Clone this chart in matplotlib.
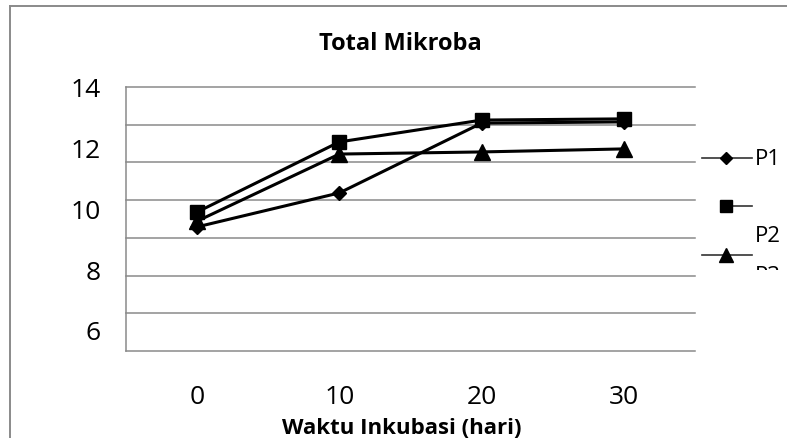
"""
Total Mikroba vs waktu inkubasi, line chart with three treatments.
"""

import numpy as np
import matplotlib.pyplot as plt
from matplotlib.lines import Line2D

plt.rcParams["font.family"] = ["Open Sans", "DejaVu Sans"]

# data
days = ["0", "10", "20", "30"]
series_names = ["P1", "P2", "P3"]
p1 = [9.39, 10.51, 12.81, 12.85]
p2 = [9.88, 12.19, 12.91, 12.95]
p3 = [9.58, 11.79, 11.86, 11.96]
y_ticks = [6, 8, 10, 12, 14]

markers = {"P1": ("D", 7), "P2": ("s", 10), "P3": ("^", 11)}
grid_c = "#8a8a8a"

W, H = 787, 439
fig = plt.figure(figsize=(W / 100, H / 100), dpi=100)

# outer chart frame (only left and top edges are visible in the crop)
fig.add_artist(Line2D([10 / W, 10 / W], [0, 1 - 7 / H], color=grid_c, lw=1.4))
fig.add_artist(Line2D([10 / W, 1], [1 - 7 / H, 1 - 7 / H], color=grid_c, lw=1.4))

ax = fig.add_axes([126 / W, 1 - 352 / H, (695 - 126) / W, 264 / H])
x = np.arange(len(days))
for name, vals in zip(series_names, [p1, p2, p3]):
    m, ms = markers[name]
    ax.plot(x, vals, color="black", lw=2.2, marker=m, ms=ms, label=name, zorder=3)

ymin, ymax = 5.3, 14
ax.set_ylim(ymin, ymax)
ax.set_xlim(-0.5, len(days) - 0.5)
ax.set_xticks(x)
ax.set_xticklabels(days)
ax.set_yticks(y_ticks)
# 8 evenly spaced horizontal gridlines, independent of the labels
for yy in np.linspace(ymin, ymax, 8):
    ax.axhline(yy, color=grid_c, lw=1.1, zorder=1, clip_on=False)
ax.tick_params(axis="both", which="both", length=0, labelsize=19)
ax.tick_params(axis="y", pad=18)
ax.tick_params(axis="x", pad=24)
for s in ["top", "right", "bottom"]:
    ax.spines[s].set_visible(False)
ax.spines["left"].set_color(grid_c)
ax.spines["left"].set_linewidth(1.1)

fig.text(400 / W, 1 - 44 / H, "Total Mikroba", ha="center", va="center",
         fontsize=17, fontweight="bold")
fig.text(402 / W, 1 - 429 / H, "Waktu Inkubasi (hari)", ha="center", va="center",
         fontsize=16, fontweight="bold")

# legend box on the right, clipped like in the original
lax = fig.add_axes([695 / W, 1 - 271 / H, (W - 695) / W, (271 - 140) / H])
lax.set_xlim(695, W)
lax.set_ylim(271, 140)
lax.axis("off")
leg_rows = {"P1": (159, 159, True), "P2": (207, 236, False), "P3": (256, 277, True)}
for name in series_names:
    m, ms = markers[name]
    y_mark, y_txt, full = leg_rows[name]
    x0 = 702 if full else 726
    lax.plot([x0, 752], [y_mark, y_mark], color="#333333", lw=1.2, clip_on=True)
    lax.plot([726], [y_mark], color="black", marker=m, ms=ms * 0.9, clip_on=True)
    lax.text(755, y_txt, name, ha="left", va="center", fontsize=16, clip_on=True)

fig.savefig("out.png", dpi=100)
